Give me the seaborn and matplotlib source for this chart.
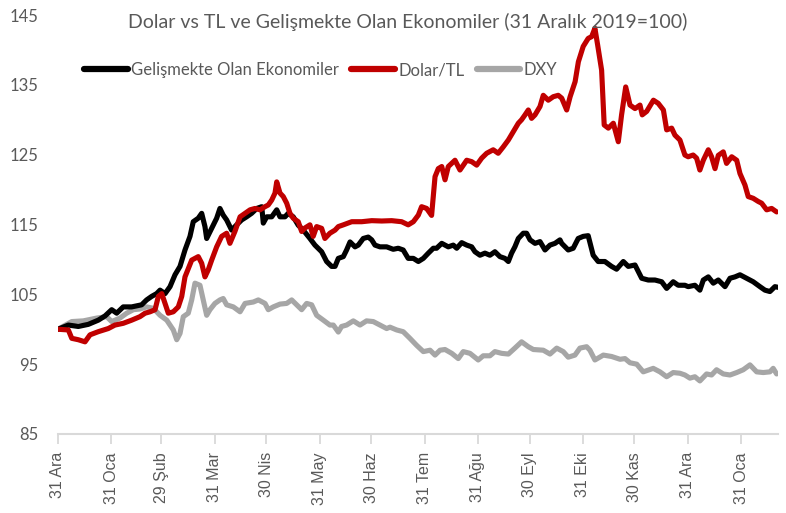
import pandas as pd
import seaborn as sns
import matplotlib.pyplot as plt
from matplotlib.lines import Line2D

sns.set_theme(style="white")
plt.rcParams['font.family'] = ['Lato', 'DejaVu Sans']

start = pd.Timestamp("2019-12-31")

# days since 31 Dec 2019, index values (31 Aralik 2019 = 100)
em_days = [0, 6, 11.8, 17.6, 23.4, 27.3, 31.2, 34.1, 37.9, 42.8, 48.6, 51.5, 54.4, 57.3, 59.3, 62.2,
           65.1, 68, 70.9, 73.8, 76.7, 78.6, 81.5, 83.5, 85.4, 86.4, 89.3, 92.2, 94.1, 96, 98, 100.9,
           103.8, 106.7, 109.6, 112.5, 115.5, 118.4, 119.3, 121.3, 124.2, 127.1, 129, 131.9, 133.8,
           136.7, 139.6, 142.5, 146.4, 149.3, 153.2, 156.1, 159, 161, 162.9, 165.8, 167.7, 169.7,
           172.6, 174.5, 177.4, 180.3, 182.3, 184.2, 187.1, 191, 194.8, 197.7, 200.6, 203.5, 206.5,
           209.4, 212.3, 215.2, 218.1, 220, 223, 226.8, 229.7, 231.7, 234.6, 237.5, 240.4, 242.3,
           245.2, 248.1, 251, 253.9, 256.8, 259.7, 261.7, 263.6, 265.5, 267.5, 270.4, 272.3, 274.3,
           277.2, 280.1, 283, 285.9, 288.8, 291.7, 292.7, 296.5, 299.4, 302.3, 305.2, 308.1, 311,
           313.9, 317.8, 321.7, 324.6, 328.5, 331.4, 335.3, 339.2, 343, 346.9, 350.8, 353.7, 357.5,
           360.4, 364.3, 366.2, 370.1, 373, 375, 377.9, 380.8, 383.7, 387.6, 390.5, 393.4, 396.3,
           400.2, 404, 407.9, 410.8, 413.7, 416.6, 418.5]
em_vals = [100, 100.6, 100.4, 100.7, 101.3, 101.9, 102.8, 102.3, 103.2, 103.2, 103.5, 104.2, 104.7,
           105.1, 105.6, 105.1, 106.1, 107.8, 109.0, 111.35, 113.3, 115.4, 115.9, 116.6, 114.7, 113.0,
           114.45, 115.9, 117.3, 116.35, 115.65, 114.2, 114.95, 115.65, 116.1, 116.6, 117.3, 117.55,
           115.2, 116.1, 116.1, 117.1, 116.1, 116.1, 116.6, 116.1, 114.9, 114.2, 113.0, 112.05, 111.1,
           109.7, 109.0, 109.0, 110.15, 110.4, 111.35, 112.5, 111.8, 112.05, 113.0, 113.2, 112.8,
           112.05, 111.8, 111.8, 111.45, 111.6, 111.35, 110.15, 110.15, 109.7, 110.15, 110.9, 111.6,
           111.6, 112.3, 111.8, 112.05, 111.6, 112.4, 112.05, 111.8, 111.1, 110.6, 110.9, 110.6, 111.1,
           110.4, 110.15, 109.7, 110.9, 111.8, 113.0, 113.75, 113.75, 112.8, 112.3, 112.55, 111.35,
           112.05, 112.3, 112.8, 112.3, 111.35, 111.6, 113.0, 113.3, 113.4, 110.6, 109.7, 109.7, 109.0,
           108.6, 109.7, 109.0, 109.2, 107.3, 107.05, 107.05, 106.8, 105.85, 106.8, 106.3, 106.3,
           106.1, 106.3, 105.6, 107.05, 107.5, 106.6, 107.05, 106.1, 107.3, 107.5, 107.8, 107.3, 106.8,
           106.1, 105.6, 105.4, 106.1, 106.0]

usdtry_days = [0, 6, 8, 11.8, 15.7, 18.6, 23.4, 29.2, 33.1, 37.9, 42.8, 47.6, 50.6, 53.5, 56.4, 58.3,
               60.3, 62.2, 64.1, 67, 69.9, 71.9, 73.8, 77.7, 81.5, 83.5, 85.4, 87.3, 89.3, 92.2, 95.1,
               98, 99.9, 102.8, 105.8, 108.7, 111.6, 114.5, 117.4, 120.3, 122.2, 124.2, 126.1, 127.1,
               129, 130.9, 132.9, 134.8, 136.7, 139.6, 141.6, 143.5, 146.4, 148.3, 150.3, 153.2, 155.1,
               158, 161, 162.9, 165.8, 170.7, 176.5, 182.3, 188.1, 193.9, 199.7, 203.5, 206.5, 209.4,
               211.3, 214.2, 217.1, 219.1, 221, 223, 224.9, 226.8, 230.7, 233.6, 237.5, 240.4, 243.3,
               246.2, 249.1, 252.9, 255.8, 258.7, 261.7, 264.6, 267.5, 269.4, 271.4, 273.3, 275.2,
               277.2, 280.1, 282, 284.9, 287.8, 290.7, 292.7, 295.6, 297.6, 300.5, 302.4, 305.2, 308.1,
               310.1, 312, 313.6, 315.9, 317.4, 319.8, 322.7, 325.6, 327.5, 329.9, 332.4, 335.3, 338.2,
               339.5, 342.1, 346, 348.8, 351.8, 353.7, 356.6, 358.5, 361.4, 364.3, 366.2, 369.1, 371.1,
               373, 375, 377.9, 379.8, 381.8, 383.7, 386.6, 388.5, 391.5, 394.4, 396.3, 399.2, 401.1,
               404, 406.9, 408.9, 411.8, 414.7, 417.6]
usdtry_vals = [100, 99.9, 98.7, 98.5, 98.2, 99.2, 99.65, 100.1, 100.6, 100.85, 101.3, 101.8, 102.3,
               102.5, 102.8, 104.7, 105.1, 103.7, 102.3, 102.5, 103.2, 104.7, 107.5, 109.9, 110.4,
               109.45, 107.5, 108.5, 109.9, 111.8, 113.3, 113.75, 112.3, 114.0, 116.1, 116.6, 117.1,
               117.3, 117.1, 117.55, 117.8, 118.5, 119.5, 121.1, 119.5, 119.0, 118.05, 116.6, 115.9,
               115.4, 114.0, 114.5, 114.95, 113.3, 114.7, 114.45, 113.0, 113.75, 114.2, 114.7, 114.95,
               115.4, 115.4, 115.55, 115.5, 115.55, 115.4, 114.95, 115.4, 116.35, 117.55, 117.3, 116.3,
               121.85, 123.0, 123.3, 121.4, 123.3, 124.2, 122.8, 124.2, 124.0, 123.5, 124.5, 125.2,
               125.7, 125.2, 126.1, 127.1, 128.3, 129.5, 130.0, 130.7, 131.4, 130.2, 130.7, 131.9,
               133.5, 132.8, 133.3, 133.5, 133.1, 131.4, 133.3, 135.45, 138.3, 140.5, 141.65, 141.9,
               143.1, 140.7, 137.1, 129.25, 128.8, 129.5, 126.85, 130.7, 134.7, 132.1, 131.6, 132.1,
               130.7, 131.2, 132.8, 132.35, 131.4, 128.55, 128.8, 127.8, 127.1, 124.95, 124.7, 124.95,
               124.5, 122.8, 124.2, 125.7, 124.7, 123.0, 124.9, 125.4, 123.75, 124.7, 124.2, 122.3,
               120.65, 119.0, 118.75, 118.3, 118.05, 117.1, 117.3, 116.8]

dxy_days = [0, 8, 14.7, 22.5, 28.3, 31.2, 36, 39.9, 43.8, 47.6, 51.5, 55.4, 59.3, 63.2, 67, 69, 70.9,
            72.8, 75.7, 77.7, 79.6, 82.5, 84.4, 86.4, 88.3, 91.2, 94.1, 96, 98, 101.9, 105.8, 108.7,
            113.5, 116.4, 120.3, 122.2, 125.1, 129, 132.9, 135.8, 138.7, 141.6, 144.5, 147.4, 150.3,
            154.2, 158, 160, 162.9, 164.8, 167.7, 171.6, 175.5, 179.3, 183.2, 187.1, 191, 192.9, 196.8,
            200.6, 204.5, 208.4, 212.3, 216.2, 219.1, 222, 224.9, 228.8, 232.6, 235.5, 239.4, 244.2,
            247.1, 251, 253.9, 257.8, 261.7, 265.5, 269.4, 273.3, 276.2, 282, 285.9, 289.8, 293.6,
            296.5, 300.4, 303.3, 307.2, 309.1, 312, 316.9, 321.7, 326.6, 329.5, 332.4, 336.3, 340.1,
            345.9, 349.8, 353.7, 357.5, 361.4, 364.3, 367.2, 370.1, 373, 376.9, 379.8, 382.7, 386.6,
            390.5, 394.4, 398.2, 402.1, 406, 409.8, 413.7, 415.6, 417.6]
dxy_vals = [100, 101.1, 101.2, 101.6, 101.8, 101.1, 101.6, 102.3, 102.8, 102.9, 103.2, 103.0, 102.0,
            101.3, 99.9, 98.5, 99.4, 101.8, 102.3, 104.2, 106.6, 106.3, 104.2, 102.0, 102.8, 103.7,
            104.2, 104.4, 103.5, 103.2, 102.5, 103.7, 103.9, 104.2, 103.7, 102.8, 103.2, 103.6, 103.7,
            104.2, 103.5, 102.8, 103.7, 103.5, 102.0, 101.3, 100.6, 100.6, 99.6, 100.4, 100.6, 101.2,
            100.6, 101.2, 101.1, 100.6, 100.1, 100.3, 99.9, 99.65, 98.7, 97.7, 96.8, 97.0, 96.3, 97.0,
            97.1, 96.55, 95.8, 96.8, 96.55, 95.6, 96.2, 96.2, 96.8, 96.55, 96.45, 97.3, 98.2, 97.5,
            97.1, 97.0, 96.45, 97.3, 96.8, 96.0, 96.3, 97.3, 97.5, 97.0, 95.6, 96.3, 96.1, 95.7, 95.8,
            95.2, 95.0, 93.9, 94.4, 93.9, 93.2, 93.8, 93.7, 93.45, 93.0, 93.2, 92.6, 93.6, 93.45, 94.2,
            93.6, 93.45, 93.8, 94.2, 94.9, 93.9, 93.8, 93.9, 94.4, 93.6]

series_names = ["Gelişmekte Olan Ekonomiler", "Dolar/TL", "DXY"]
series_colors = ["#000000", "#C00000", "#A6A6A6"]

tick_dates = ["2019-12-31", "2020-01-31", "2020-02-29", "2020-03-31", "2020-04-30", "2020-05-31",
              "2020-06-30", "2020-07-31", "2020-08-31", "2020-09-30", "2020-10-31", "2020-11-30",
              "2020-12-31", "2021-01-31"]
tick_labels = ["31 Ara", "31 Oca", "29 Şub", "31 Mar", "30 Nis", "31 May", "30 Haz", "31 Tem",
               "31 Ağu", "30 Eyl", "31 Eki", "30 Kas", "31 Ara", "31 Oca"]

frames = []
for name, days, vals in zip(series_names, [em_days, usdtry_days, dxy_days],
                            [em_vals, usdtry_vals, dxy_vals]):
    frames.append(pd.DataFrame({
        "tarih": start + pd.to_timedelta(days, unit="D"),
        "deger": vals,
        "seri": name,
    }))
df = pd.concat(frames, ignore_index=True)

fig = plt.figure(figsize=(7.86, 5.13), dpi=100)
ax = fig.add_axes([58 / 786, 1 - 434 / 513, 720 / 786, 419 / 513])

# draw order: DXY first, then EM, then Dolar/TL on top
for name, color in [("DXY", "#A6A6A6"), ("Gelişmekte Olan Ekonomiler", "#000000"), ("Dolar/TL", "#C00000")]:
    sns.lineplot(data=df[df["seri"] == name], x="tarih", y="deger", color=color,
                 linewidth=3.7, estimator=None, sort=False, legend=False, ax=ax)

ax.set_xlim(start, start + pd.Timedelta(days=418.4))
ax.set_ylim(85, 145)
ax.set_yticks([85, 95, 105, 115, 125, 135, 145])
ax.set_xticks(pd.to_datetime(tick_dates))
ax.set_xticklabels(tick_labels, rotation=90, fontsize=11.5, color="#595959",
                   family=["Liberation Sans", "DejaVu Sans"])
ax.tick_params(axis="y", length=0, pad=14, labelsize=12, labelcolor="#595959")
ax.tick_params(axis="x", length=7, width=1.3, color="#D9D9D9", direction="out", pad=6, bottom=True)
ax.set_xlabel("")
ax.set_ylabel("")
ax.grid(False)
for side in ["left", "right", "top"]:
    ax.spines[side].set_visible(False)
ax.spines["bottom"].set_color("#D9D9D9")
ax.spines["bottom"].set_linewidth(1.5)

fig.text(0.519, 1 - 22 / 513, "Dolar vs TL ve Gelişmekte Olan Ekonomiler (31 Aralık 2019=100)",
         ha="center", va="center", fontsize=14, color="#595959")

handles = [Line2D([], [], color=c, linewidth=4.5, solid_capstyle="round") for c in series_colors]
fig.legend(handles, series_names, loc="center", bbox_to_anchor=(0.408, 1 - 70 / 513), ncol=3,
           frameon=False, fontsize=12, labelcolor="#595959", handlelength=2.6,
           handletextpad=0.2, columnspacing=0.75)

fig.savefig("out.png", dpi=100)
